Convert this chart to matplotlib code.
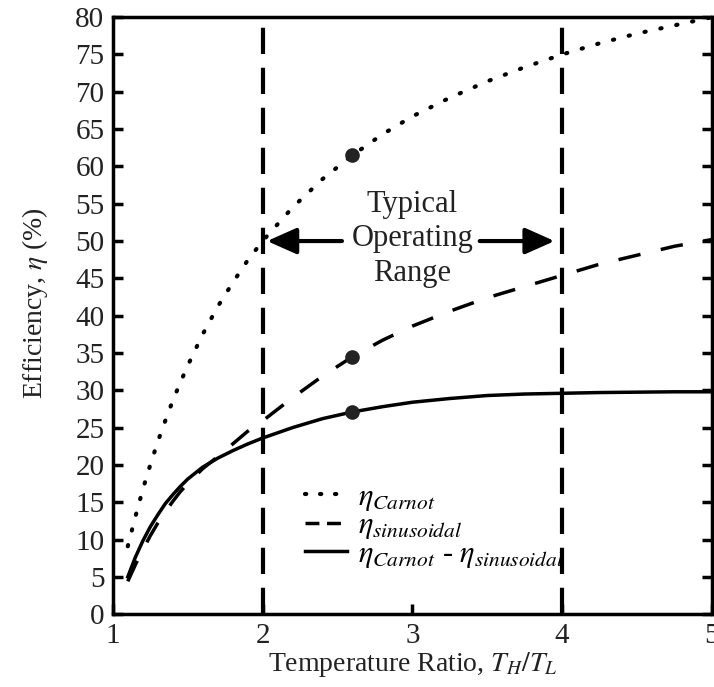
import numpy as np
import matplotlib
matplotlib.use("Agg")
from matplotlib import pyplot as plt
from matplotlib.lines import Line2D

plt.rcParams['font.family'] = ['Liberation Serif', 'DejaVu Serif']
plt.rcParams['mathtext.fontset'] = 'stix'

# temperature ratio T_H/T_L
ratio = [1.1, 1.15, 1.2, 1.25, 1.3, 1.35, 1.4, 1.45, 1.5, 1.6, 1.7, 1.8, 1.9,
         2.0, 2.2, 2.4, 2.6, 2.8, 3.0, 3.25, 3.5, 3.75, 4.0, 4.25, 4.5, 4.75,
         5.0]
# efficiencies in %
eta_carnot = [9.1, 13.0, 16.7, 20.0, 23.1, 25.9, 28.6, 31.0, 33.3, 37.5, 41.2,
              44.4, 47.4, 50.0, 54.5, 58.3, 61.5, 64.3, 66.7, 69.2, 71.4, 73.3,
              75.0, 76.5, 77.8, 78.9, 80.0]
eta_sin = [4.4, 6.6, 8.6, 10.5, 12.2, 13.7, 15.1, 16.4, 17.5, 19.5, 21.1,
           22.8, 24.5, 25.9, 29.0, 31.9, 34.5, 36.7, 38.6, 40.6, 42.4, 43.9,
           45.4, 46.9, 48.1, 49.3, 50.2]
eta_diff = [5.0, 7.6, 9.8, 11.7, 13.3, 14.8, 16.0, 17.1, 18.1, 19.7, 20.9,
            21.9, 22.8, 23.6, 25.0, 26.2, 27.1, 27.8, 28.4, 28.9, 29.3, 29.5,
            29.6, 29.7, 29.75, 29.8, 29.8]

# design point
pt_x = 2.6
pt_y = [61.5, 34.5, 27.1]

range_lo, range_hi = 2, 4

dot_style = (0, (0.3, 3.6))
dash_style = (0, (6.5, 6))

fig = plt.figure(figsize=(7.14, 6.87), dpi=100)
ax = fig.add_axes([0.158, 0.106, 0.839, 0.869])

ax.plot(ratio, eta_carnot, color='k', lw=3, ls=dot_style,
        dash_capstyle='round')
ax.plot(ratio, eta_sin, color='k', lw=2.5, ls=dash_style)
ax.plot(ratio, eta_diff, color='k', lw=2.5, ls='-')

ax.plot([pt_x] * 3, pt_y, 'o', color='#222222', ms=9.5, zorder=5)

for xv in (range_lo, range_hi):
    ax.axvline(xv, color='k', lw=3, ls=(0, (6.3, 3.3)))

ax.text(3.0, 50.3, 'Typical\nOperating\nRange', ha='center', va='center',
        fontsize=22, color='#222222', linespacing=1.25)
arrow = dict(arrowstyle='-|>,head_length=1.8,head_width=0.8',
             color='k', lw=3, shrinkA=0, shrinkB=0)
ax.annotate('', xy=(2.03, 50), xytext=(2.53, 50), arrowprops=arrow)
ax.annotate('', xy=(3.95, 50), xytext=(3.45, 50), arrowprops=arrow)

ax.set_xlim(1, 5)
ax.set_ylim(0, 80)
ax.set_xticks([1, 2, 3, 4, 5])
ax.set_yticks(np.arange(0, 81, 5))
ax.tick_params(direction='in', length=7, width=2.5, labelsize=21,
               right=True, labelcolor='#222222', pad=6)
for s in ax.spines.values():
    s.set_linewidth(2.5)

ax.set_xlabel(r'Temperature Ratio, $T_H/T_L$', fontsize=20, color='#222222',
              labelpad=1)
ax.set_ylabel(r'Efficiency, $\eta$ (%)', fontsize=20, color='#222222')
ax.yaxis.set_label_coords(-0.105, 0.521)

handles = [Line2D([], [], color='k', lw=3, ls=(0, (0.3, 3.3)),
                  dash_capstyle='round'),
           Line2D([], [], color='k', lw=2.5, ls=(0, (4, 2.2))),
           Line2D([], [], color='k', lw=2.5, ls='-')]
labels = [r'$\eta_{Carnot}$', r'$\eta_{sinusoidal}$',
          r'$\eta_{Carnot}$ - $\eta_{sinusoidal}$']
ax.legend(handles, labels, loc='upper left', bbox_to_anchor=(0.32, 0.22),
          frameon=False, fontsize=22, handlelength=1.4, handletextpad=0.35,
          labelspacing=-0.05, borderaxespad=0, borderpad=0)

fig.savefig('out.png', dpi=100)
